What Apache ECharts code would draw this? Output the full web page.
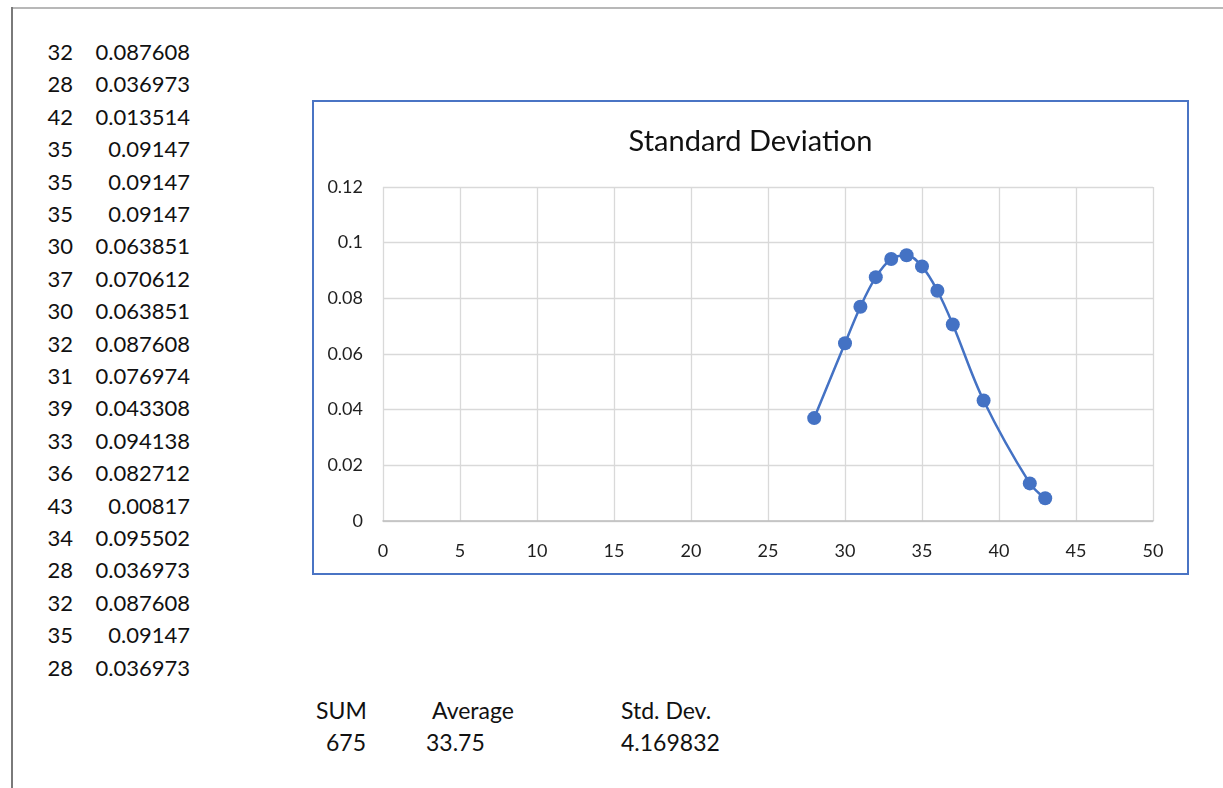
<!DOCTYPE html>
<html>
<head>
<meta charset="utf-8">
<script src="https://cdn.jsdelivr.net/npm/echarts@6/dist/echarts.min.js"></script>
<style>
  html, body { margin: 0; padding: 0; background: #fff; }
  body { width: 1223px; height: 788px; position: relative; overflow: hidden; font-family: Lato, "Noto Sans", sans-serif; color: #111; }
  .topline { position: absolute; left: 12px; top: 7px; width: 1211px; height: 0; border-top: 2px solid #b8b8b8; }
  .leftline { position: absolute; left: 11px; top: 7px; width: 0; height: 781px; border-left: 2px solid #7a7a7a; }
  .cell { position: absolute; font-size: 22px; line-height: 24px; white-space: nowrap; }
  .stat { font-size: 23px; }
  .r { text-align: right; }
  #chart { position: absolute; left: 312px; top: 100px; width: 877px; height: 475px; }
  .frame { position: absolute; left: 312px; top: 100px; width: 877px; height: 475px; box-sizing: border-box; border: 2px solid #4a74c4; pointer-events: none; }
</style>
</head>
<body>
<div class="topline"></div>
<div class="leftline"></div>
<div id="table"></div>
<div id="chart"></div>
<div class="frame"></div>
<div id="stats"></div>
<script>
// Raw worksheet columns
const ages = [32, 28, 42, 35, 35, 35, 30, 37, 30, 32, 31, 39, 33, 36, 43, 34, 28, 32, 35, 28];
const densities = ["0.087608", "0.036973", "0.013514", "0.09147", "0.09147", "0.09147", "0.063851", "0.070612", "0.063851", "0.087608",
                   "0.076974", "0.043308", "0.094138", "0.082712", "0.00817", "0.095502", "0.036973", "0.087608", "0.09147", "0.036973"];
const statLabels = ["SUM", "Average", "Std. Dev."];
const statValues = ["675", "33.75", "4.169832"];
const xTicks = { min: 0, max: 50, interval: 5 };
const yTicks = { min: 0, max: 0.12, interval: 0.02 };
const chartTitle = "Standard Deviation";

// worksheet text
const table = document.getElementById('table');
ages.forEach((a, i) => {
  const top = 40 + i * 32.4;
  const c1 = document.createElement('div');
  c1.className = 'cell r';
  c1.style.cssText = `left:20px;width:53px;top:${top}px;`;
  c1.textContent = a;
  const c2 = document.createElement('div');
  c2.className = 'cell r';
  c2.style.cssText = `left:80px;width:110px;top:${top}px;`;
  c2.textContent = densities[i];
  table.appendChild(c1); table.appendChild(c2);
});
const stats = document.getElementById('stats');
const statPos = [
  { l: [316, 'left'], v: [366, 'right'] },
  { l: [432, 'left'], v: [426, 'left'] },
  { l: [621, 'left'], v: [621, 'left'] }
];
statLabels.forEach((s, i) => {
  const p = statPos[i];
  const d1 = document.createElement('div');
  d1.className = 'cell stat';
  d1.style.top = '698px';
  d1.style.left = p.l[0] + 'px';
  d1.textContent = s;
  const d2 = document.createElement('div');
  d2.className = 'cell stat';
  d2.style.top = '730px';
  if (p.v[1] === 'right') { d2.style.left = (p.v[0] - 100) + 'px'; d2.style.width = '100px'; d2.style.textAlign = 'right'; }
  else d2.style.left = p.v[0] + 'px';
  d2.textContent = statValues[i];
  stats.appendChild(d1); stats.appendChild(d2);
});

// chart series: unique (x, y) pairs sorted by x
const seen = {};
ages.forEach((a, i) => { seen[a] = parseFloat(densities[i]); });
const points = Object.keys(seen).map(Number).sort((a, b) => a - b).map(k => [k, seen[k]]);

const chart = echarts.init(document.getElementById('chart'), null, { renderer: 'canvas' });
chart.setOption({
  animation: false,
  title: {
    text: chartTitle, left: 'center', top: 22,
    textStyle: { fontFamily: 'Lato', fontSize: 29, fontWeight: 'normal', color: '#111' }
  },
  grid: { left: 71, right: 36, top: 87, bottom: 54, containLabel: false },
  xAxis: {
    type: 'value', min: xTicks.min, max: xTicks.max, interval: xTicks.interval,
    axisLine: { show: true, lineStyle: { color: '#bfbfbf', width: 1.5 } },
    axisTick: { show: false },
    axisLabel: { margin: 21, fontFamily: 'Lato', fontSize: 18, color: '#1f1f1f' },
    splitLine: { show: true, lineStyle: { color: '#d9d9d9', width: 1.3 } }
  },
  yAxis: {
    type: 'value', min: yTicks.min, max: yTicks.max, interval: yTicks.interval,
    axisLine: { show: false },
    axisTick: { show: false },
    axisLabel: { margin: 20, fontFamily: 'Lato', fontSize: 18, color: '#1f1f1f' },
    splitLine: { show: true, lineStyle: { color: '#d9d9d9', width: 1.3 } }
  },
  series: [{
    type: 'line',
    data: points,
    smooth: 0.35,
    symbol: 'circle',
    symbolSize: 14,
    itemStyle: { color: '#4472c4' },
    lineStyle: { color: '#4472c4', width: 2.5 }
  }]
});
</script>
</body>
</html>
